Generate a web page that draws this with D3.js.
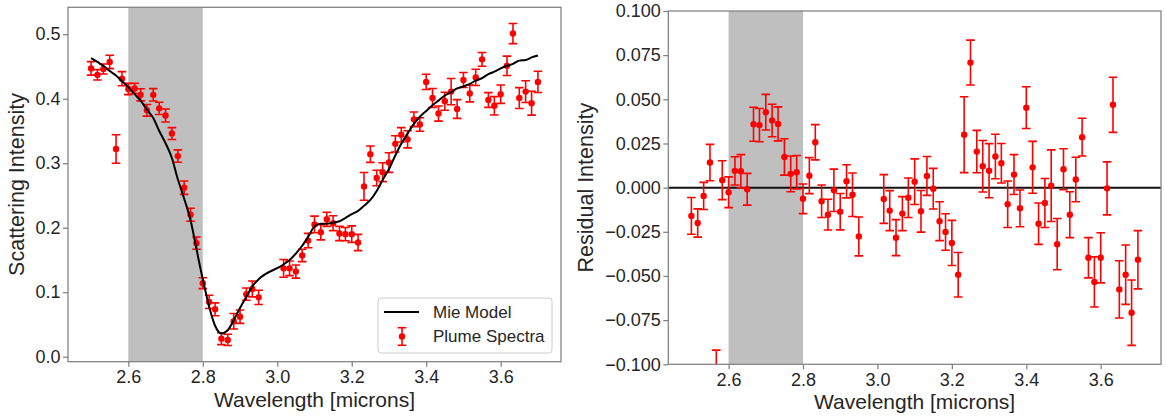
<!DOCTYPE html>
<html>
<head>
<meta charset="utf-8">
<script src="https://cdn.jsdelivr.net/npm/d3@7"></script>
<style>
  body { margin: 0; background: #fff; }
  text { font-family: "Liberation Sans", Arial, sans-serif; fill: #262626; }
</style>
</head>
<body>
<svg id="chart"></svg>
<script>
// wavelength grid of the plume spectrum (microns)
const wavelength = [
  2.500, 2.517, 2.533, 2.550, 2.567, 2.583, 2.600, 2.617, 2.633, 2.650,
  2.667, 2.683, 2.700, 2.717, 2.733, 2.750, 2.767, 2.783, 2.800, 2.817,
  2.833, 2.850, 2.867, 2.883, 2.900, 2.917, 2.933, 2.950,
  3.017, 3.033, 3.050, 3.067, 3.083, 3.100, 3.117, 3.133, 3.150, 3.167,
  3.183, 3.200, 3.217, 3.233, 3.250, 3.267, 3.283, 3.300, 3.317, 3.333,
  3.350, 3.367, 3.383, 3.400, 3.417, 3.433, 3.450, 3.467, 3.483, 3.500,
  3.517, 3.533, 3.550, 3.567, 3.583, 3.600, 3.617, 3.633, 3.650, 3.667,
  3.683, 3.700
];
const intensity = [
  0.447, 0.437, 0.446, 0.457, 0.322, 0.431, 0.415, 0.416, 0.406, 0.382,
  0.406, 0.385, 0.374, 0.346, 0.311, 0.262, 0.220, 0.176, 0.114, 0.085,
  0.0735, 0.028, 0.026, 0.055, 0.062, 0.097, 0.105, 0.092,
  0.137, 0.137, 0.132, 0.157, 0.180, 0.205, 0.193, 0.213, 0.207, 0.191,
  0.190, 0.190, 0.177, 0.264, 0.314, 0.277, 0.286, 0.301, 0.330, 0.344,
  0.337, 0.368, 0.360, 0.426, 0.401, 0.377, 0.396, 0.411, 0.384, 0.429,
  0.408, 0.433, 0.461, 0.398, 0.389, 0.407, 0.451, 0.501, 0.401, 0.411,
  0.393, 0.426
];
const intensityErr = [
  0.0104, 0.0080, 0.0077, 0.0103, 0.0220, 0.0110, 0.0087, 0.0080, 0.0094, 0.0090,
  0.0096, 0.0094, 0.0101, 0.0092, 0.0096, 0.0103, 0.0101, 0.0095, 0.0084, 0.0102,
  0.0100, 0.0092, 0.0087, 0.0120, 0.0103, 0.0094, 0.0123, 0.0110,
  0.0138, 0.0113, 0.0102, 0.0096, 0.0112, 0.0129, 0.0118, 0.0110, 0.0115, 0.0110,
  0.0103, 0.0128, 0.0126, 0.0215, 0.0127, 0.0120, 0.0146, 0.0153, 0.0126, 0.0112,
  0.0132, 0.0113, 0.0104, 0.0118, 0.0147, 0.0117, 0.0139, 0.0203, 0.0145, 0.0116,
  0.0130, 0.0126, 0.0107, 0.0114, 0.0142, 0.0142, 0.0150, 0.0156, 0.0162, 0.0168,
  0.0185, 0.0165
];
const mieModel = [
  0.463, 0.457, 0.451, 0.443, 0.436, 0.427, 0.418, 0.407, 0.397, 0.383,
  0.370, 0.350, 0.331, 0.308, 0.275, 0.245, 0.212, 0.167, 0.120, 0.078,
  0.048, 0.036, 0.041, 0.0565, 0.0756, 0.093, 0.109, 0.120,
  0.143, 0.150, 0.160, 0.172, 0.186, 0.202, 0.206, 0.206, 0.208, 0.210,
  0.215, 0.221, 0.226, 0.234, 0.243, 0.257, 0.274, 0.291, 0.312, 0.330,
  0.346, 0.361, 0.372, 0.381, 0.390, 0.397, 0.405, 0.410, 0.416, 0.419,
  0.423, 0.428, 0.432, 0.438, 0.442, 0.447, 0.451, 0.454, 0.459, 0.460,
  0.464, 0.467
];
const residual = [
  -0.0160, -0.0200, -0.0047, 0.0142, -0.1140, 0.0042, -0.0026, 0.0095, 0.0093, -0.0009,
  0.0359, 0.0354, 0.0427, 0.0380, 0.0361, 0.0174, 0.0078, 0.0087, -0.0063, 0.0068,
  0.0257, -0.0077, -0.0153, -0.0015, -0.0136, 0.0036, -0.0040, -0.0276,
  -0.0064, -0.0130, -0.0283, -0.0147, -0.0057, 0.0034, -0.0134, 0.0066, -0.0006, -0.0190,
  -0.0251, -0.0313, -0.0493, 0.0300, 0.0708, 0.0204, 0.0121, 0.0096, 0.0176, 0.0138,
  -0.0094, 0.0074, -0.0117, 0.0453, 0.0115, -0.0204, -0.0087, 0.0011, -0.0320, 0.0104,
  -0.0153, 0.0046, 0.0286, -0.0397, -0.0534, -0.0397, -0.0004, 0.0469, -0.0576, -0.0493,
  -0.0708, -0.0408
];
const xTicks = [2.6, 2.8, 3.0, 3.2, 3.4, 3.6];
const xDomain = [2.438, 3.762];
const shadeBand = [2.6, 2.8];
const leftYTicks = [0.0, 0.1, 0.2, 0.3, 0.4, 0.5];
const leftYDomain = [-0.00775, 0.5417];
const rightYTicks = [-0.1, -0.075, -0.05, -0.025, 0, 0.025, 0.05, 0.075, 0.1];
const rightYDomain = [-0.1, 0.1];
const legendLabels = ['Mie Model', 'Plume Spectra'];

const W = 1166, H = 418;
const RED = '#ff0000';
const SPINE = '#808080';

const svg = d3.select('#chart').attr('width', W).attr('height', H);

function drawPanel(o) {
  const x = d3.scaleLinear().domain(xDomain).range([o.left, o.right]);
  const y = d3.scaleLinear().domain(o.yDomain).range([o.bottom, o.top]);
  const g = svg.append('g');

  const clipId = 'clip-' + o.id;
  svg.append('clipPath').attr('id', clipId)
    .append('rect')
    .attr('x', o.left).attr('y', o.top)
    .attr('width', o.right - o.left).attr('height', o.bottom - o.top);

  // shaded wavelength band
  g.append('rect')
    .attr('x', x(shadeBand[0]))
    .attr('y', o.top)
    .attr('width', x(shadeBand[1]) - x(shadeBand[0]))
    .attr('height', o.bottom - o.top)
    .attr('fill', '#bfbfbf');

  const plot = g.append('g').attr('clip-path', `url(#${clipId})`);

  if (o.zeroLine) {
    plot.append('line')
      .attr('x1', o.left).attr('x2', o.right)
      .attr('y1', y(0)).attr('y2', y(0))
      .attr('stroke', '#111').attr('stroke-width', 2);
  }

  const pts = wavelength.map((w, i) => ({ w, v: o.values[i], e: intensityErr[i] }));

  const bar = plot.selectAll('.err')
    .data(pts)
    .enter()
    .append('g')
    .attr('class', 'err')
    .attr('stroke', RED)
    .attr('stroke-width', 1.6);

  bar.append('line')
    .attr('x1', d => x(d.w)).attr('x2', d => x(d.w))
    .attr('y1', d => y(d.v - d.e)).attr('y2', d => y(d.v + d.e));
  bar.append('line')
    .attr('x1', d => x(d.w) - 4.3).attr('x2', d => x(d.w) + 4.3)
    .attr('y1', d => y(d.v + d.e)).attr('y2', d => y(d.v + d.e));
  bar.append('line')
    .attr('x1', d => x(d.w) - 4.3).attr('x2', d => x(d.w) + 4.3)
    .attr('y1', d => y(d.v - d.e)).attr('y2', d => y(d.v - d.e));

  plot.selectAll('.dot')
    .data(pts)
    .enter()
    .append('circle')
    .attr('class', 'dot')
    .attr('cx', d => x(d.w))
    .attr('cy', d => y(d.v))
    .attr('r', 3.2)
    .attr('fill', RED);

  if (o.model) {
    const line = d3.line()
      .x((d, i) => x(wavelength[i]))
      .y(d => y(d))
      .curve(d3.curveMonotoneX);
    plot.append('path')
      .datum(o.model)
      .attr('d', line)
      .attr('fill', 'none')
      .attr('stroke', '#000')
      .attr('stroke-width', 2);
  }

  // axes
  const xAxis = g.append('g')
    .attr('transform', `translate(0,${o.bottom})`)
    .call(d3.axisBottom(x).tickValues(xTicks).tickSize(5).tickPadding(4)
      .tickFormat(d3.format('.1f')));
  const yAxis = g.append('g')
    .attr('transform', `translate(${o.left},0)`)
    .call(d3.axisLeft(y).tickValues(o.yTicks).tickSize(5).tickPadding(2.5)
      .tickFormat(d3.format(o.yFormat)));

  [xAxis, yAxis].forEach(a => {
    a.select('.domain').remove();
    a.selectAll('.tick line').attr('stroke', SPINE).attr('stroke-width', 1.25);
    a.selectAll('.tick text')
      .attr('font-size', 18)
      .attr('font-family', '"Liberation Sans", Arial, sans-serif')
      .attr('fill', '#262626');
  });

  // frame
  g.append('rect')
    .attr('x', o.left).attr('y', o.top)
    .attr('width', o.right - o.left).attr('height', o.bottom - o.top)
    .attr('fill', 'none')
    .attr('stroke', SPINE)
    .attr('stroke-width', 1.25);

  g.append('text')
    .attr('x', (o.left + o.right) / 2)
    .attr('y', o.bottom + 45)
    .attr('text-anchor', 'middle')
    .attr('font-size', 21)
    .text('Wavelength [microns]');

  g.append('text')
    .attr('transform', `translate(${o.ylabelX},${(o.top + o.bottom) / 2}) rotate(-90)`)
    .attr('text-anchor', 'middle')
    .attr('font-size', 21.5)
    .text(o.ylabel);

  return { x, y, g };
}

const left = drawPanel({
  id: 'left', left: 68, right: 561, top: 7.3, bottom: 361.7,
  yDomain: leftYDomain, yTicks: leftYTicks, yFormat: '.1f',
  values: intensity, model: mieModel,
  ylabel: 'Scattering Intensity', ylabelX: 24
});

drawPanel({
  id: 'right', left: 668.3, right: 1161, top: 11, bottom: 364.3,
  yDomain: rightYDomain, yTicks: rightYTicks, yFormat: '.3f',
  values: residual, zeroLine: true,
  ylabel: 'Residual Intensity', ylabelX: 593
});

// legend
const lg = left.g.append('g').attr('transform', 'translate(378,298)');
lg.append('rect')
  .attr('width', 174).attr('height', 55).attr('rx', 3)
  .attr('fill', '#fff').attr('fill-opacity', 0.8)
  .attr('stroke', '#cccccc').attr('stroke-width', 1);
lg.append('line')
  .attr('x1', 6).attr('x2', 41).attr('y1', 14).attr('y2', 14)
  .attr('stroke', '#000').attr('stroke-width', 2);
const mk = lg.append('g').attr('stroke', RED).attr('stroke-width', 1.6);
mk.append('line').attr('x1', 24).attr('x2', 24).attr('y1', 29.7).attr('y2', 47.3);
mk.append('line').attr('x1', 19.7).attr('x2', 28.3).attr('y1', 29.7).attr('y2', 29.7);
mk.append('line').attr('x1', 19.7).attr('x2', 28.3).attr('y1', 47.3).attr('y2', 47.3);
lg.append('circle').attr('cx', 24).attr('cy', 38.5).attr('r', 3.2).attr('fill', RED);
lg.selectAll('.lbl')
  .data(legendLabels)
  .enter()
  .append('text')
  .attr('class', 'lbl')
  .attr('x', 55)
  .attr('y', (d, i) => 14 + i * 24.5)
  .attr('dy', '0.35em')
  .attr('font-size', 17)
  .text(d => d);
</script>
</body>
</html>
